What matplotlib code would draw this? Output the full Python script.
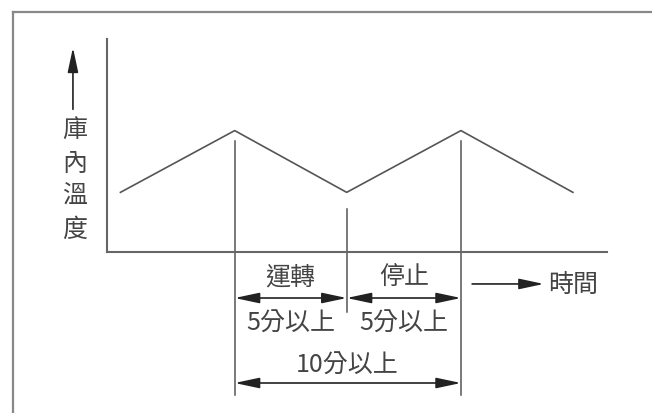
import matplotlib
matplotlib.use('Agg')
import matplotlib.pyplot as plt
from matplotlib.lines import Line2D

plt.rcParams['font.family'] = ['Noto Sans CJK TC', 'DejaVu Sans']

# cycle of the cabinet temperature (minutes, arbitrary temperature units)
times = [0.6, 5.7, 10.7, 15.8, 20.8]
temps = [2.8, 5.7, 2.8, 5.7, 2.8]

y_label = '庫內溫度'
x_label = '時間'
run_label = '運轉'
stop_label = '停止'
half_label = '5分以上'
full_label = '10分以上'

line_col = '#555555'
text_col = '#444444'

fig = plt.figure(figsize=(6.52, 4.14), dpi=100)
W, H = 652, 414

# outer frame (only left and top visible in the reference)
fig.add_artist(Line2D([13 / W, 13 / W], [0, 1 - 13 / H], color='#888888', lw=1.6))
fig.add_artist(Line2D([13 / W, 1], [1 - 13 / H, 1 - 13 / H], color='#888888', lw=1.6))

ax = fig.add_axes([107 / W, (H - 253) / H, 500 / W, 213 / H])
ax.set_xlim(0, 500 / 22.4)
ax.set_ylim(0, 10)
for s in ['top', 'right']:
    ax.spines[s].set_visible(False)
for s in ['left', 'bottom']:
    ax.spines[s].set_color('#666666')
    ax.spines[s].set_linewidth(1.5)
ax.set_xticks([])
ax.set_yticks([])
ax.patch.set_alpha(0)

ax.plot(times, temps, color=line_col, lw=1.2, clip_on=False)

# extension lines from peaks and trough
t_on, t_mid, t_off = times[1], times[2], times[3]
ax.plot([t_on, t_on], [temps[1] - 0.5, -6.7], color=line_col, lw=1.1, clip_on=False)
ax.plot([t_off, t_off], [temps[3] - 0.5, -6.7], color=line_col, lw=1.1, clip_on=False)
ax.plot([t_mid, t_mid], [temps[2] - 0.8, -2.8], color=line_col, lw=1.1, clip_on=False)

arrow = dict(arrowstyle='<|-|>,head_length=0.75,head_width=0.16', color='#222222',
             lw=1.2, shrinkA=0, shrinkB=0, mutation_scale=20)
ax.annotate('', xy=(t_on, -2.16), xytext=(t_mid, -2.16), arrowprops=arrow, annotation_clip=False)
ax.annotate('', xy=(t_mid, -2.16), xytext=(t_off, -2.16), arrowprops=arrow, annotation_clip=False)
ax.annotate('', xy=(t_on, -6.15), xytext=(t_off, -6.15), arrowprops=arrow, annotation_clip=False)

fs = 18
ax.text((t_on + t_mid) / 2, -1.17, run_label, ha='center', va='center', fontsize=fs, color=text_col)
ax.text((t_mid + t_off) / 2, -1.17, stop_label, ha='center', va='center', fontsize=fs, color=text_col)
ax.text((t_on + t_mid) / 2, -3.3, half_label, ha='center', va='center', fontsize=fs, color=text_col)
ax.text((t_mid + t_off) / 2, -3.3, half_label, ha='center', va='center', fontsize=fs, color=text_col)
ax.text(t_mid, -5.3, full_label, ha='center', va='center', fontsize=fs, color=text_col)

# time axis label with arrow
head = dict(arrowstyle='-|>,head_length=0.75,head_width=0.16', color='#222222',
            lw=1.2, shrinkA=0, shrinkB=0, mutation_scale=20)
ax.annotate('', xy=(19.5, -1.5), xytext=(16.3, -1.5), arrowprops=head, annotation_clip=False)
ax.text(19.7, -1.5, x_label, ha='left', va='center', fontsize=fs, color=text_col)

# temperature axis label with arrow
ax.annotate('', xy=(-1.52, 9.6), xytext=(-1.52, 6.7), arrowprops=head, annotation_clip=False)
for i, ch in enumerate(y_label):
    ax.text(-1.45, 5.75 - i * 1.55, ch, ha='center', va='center', fontsize=fs, color=text_col)

fig.savefig('out.png', dpi=100, facecolor='white')
